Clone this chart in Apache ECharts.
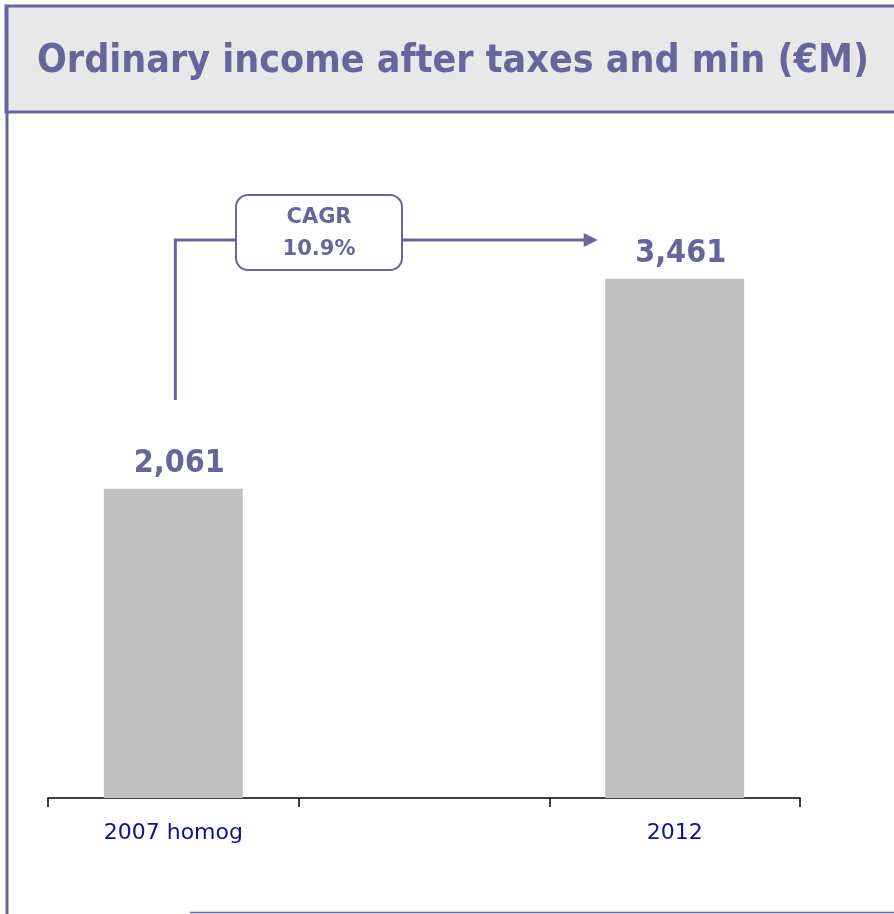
<!DOCTYPE html>
<html>
<head>
<meta charset="utf-8">
<script src="https://cdn.jsdelivr.net/npm/echarts@6/dist/echarts.min.js"></script>
<style>
  html, body { margin: 0; padding: 0; background: #fff; }
  #chart { width: 894px; height: 914px; }
</style>
</head>
<body>
<div id="chart"></div>
<script>
// data
const categories = ['2007 homog', '', '2012']
const values = [2061, null, 3461]
const valueLabels = ['2,061', '', '3,461']
const cagrText = ['CAGR', '10.9%']
const titleText = 'Ordinary income after taxes and min (€M)'

const purple = '#66669c'
const myChart = echarts.init(document.getElementById('chart'))

const option = {
  animation: false,
  grid: { left: 48, right: 94, top: 198, bottom: 116, containLabel: false },
  xAxis: {
    type: 'category',
    data: categories,
    axisLine: { show: true, lineStyle: { color: '#000', width: 1.5 } },
    axisTick: { show: true, length: 9, lineStyle: { color: '#000', width: 1.5 } },
    axisLabel: {
      color: '#12128a',
      fontFamily: 'DejaVu Sans',
      fontSize: 22,
      margin: 24
    }
  },
  yAxis: {
    type: 'value',
    min: 0,
    max: 4000,
    show: false,
    splitLine: { show: false }
  },
  series: [
    {
      type: 'bar',
      data: values,
      barWidth: 139,
      itemStyle: { color: '#c0c0c0' },
      label: {
        show: true,
        position: 'top',
        distance: 9,
        offset: [6, 0],
        color: purple,
        fontFamily: 'DejaVu Sans Condensed',
        fontWeight: 'bold',
        fontSize: 32,
        formatter: p => valueLabels[p.dataIndex]
      }
    }
  ]
}
myChart.setOption(option)

// CAGR arrow, placed through the chart's own scales
const start = myChart.convertToPixel({ gridIndex: 0 }, [0, 2653])
const corner = myChart.convertToPixel({ gridIndex: 0 }, [0, 3720])
const endX = myChart.convertToPixel({ gridIndex: 0 }, [2, 3720])[0] - 77
const boxL = 236, boxR = 402, boxT = 195, boxB = 270
const cx = start[0] + 2

myChart.setOption({
  graphic: [
    // title band
    { type: 'rect', shape: { x: 6, y: 6, width: 900, height: 106 }, style: { fill: '#e8e8e8', stroke: purple, lineWidth: 3 }, z: 1 },
    { type: 'text', left: 37, top: 42, style: { text: titleText, fill: purple, font: 'bold 39px "DejaVu Sans Condensed"' }, z: 2 },
    // left frame line and bottom line
    { type: 'line', shape: { x1: 7, y1: 6, x2: 7, y2: 914 }, style: { stroke: purple, lineWidth: 3 }, z: 2 },
    { type: 'line', shape: { x1: 190, y1: 912.5, x2: 894, y2: 912.5 }, style: { stroke: purple, lineWidth: 1.5 }, z: 2 },
    // arrow
    { type: 'polyline', shape: { points: [[cx, start[1]], [cx, corner[1]], [boxL, corner[1]]] }, style: { stroke: purple, lineWidth: 3, fill: null }, z: 3 },
    { type: 'line', shape: { x1: boxR, y1: corner[1], x2: endX - 12, y2: corner[1] }, style: { stroke: purple, lineWidth: 3 }, z: 3 },
    { type: 'polygon', shape: { points: [[endX - 14, corner[1] - 7], [endX, corner[1]], [endX - 14, corner[1] + 7]] }, style: { fill: purple }, z: 3 },
    { type: 'rect', shape: { x: boxL, y: boxT, width: boxR - boxL, height: boxB - boxT, r: 12 }, style: { fill: '#fff', stroke: purple, lineWidth: 2 }, z: 3 },
    { type: 'text', x: (boxL + boxR) / 2, y: 218, style: { text: cagrText[0], fill: purple, font: 'bold 21px "DejaVu Sans"', align: 'center', verticalAlign: 'middle' }, z: 4 },
    { type: 'text', x: (boxL + boxR) / 2, y: 250, style: { text: cagrText[1], fill: purple, font: 'bold 21px "DejaVu Sans"', align: 'center', verticalAlign: 'middle' }, z: 4 }
  ]
})
</script>
</body>
</html>
